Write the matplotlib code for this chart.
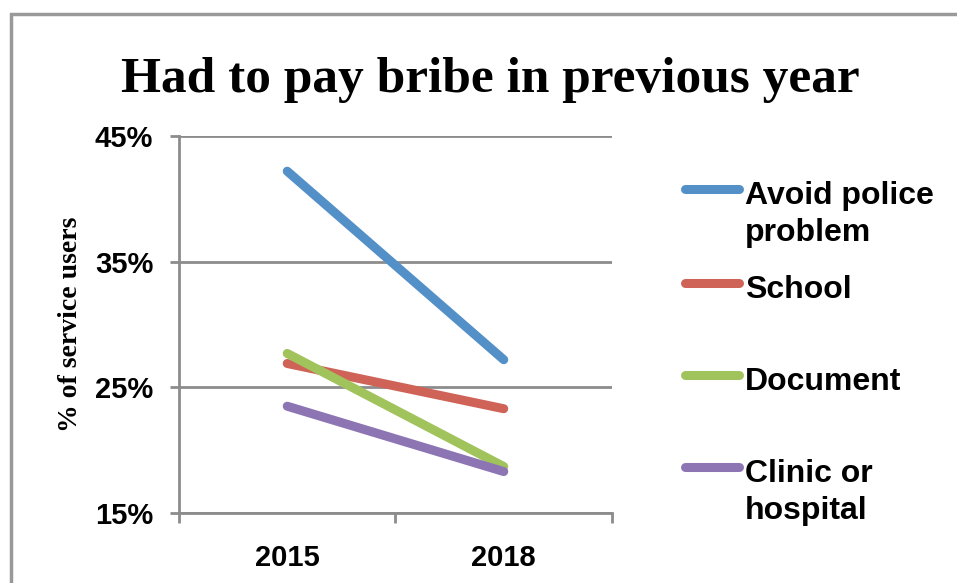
import matplotlib.pyplot as plt
import numpy as np
from matplotlib.lines import Line2D
from matplotlib.patches import Rectangle

years = ['2015', '2018']
series_names = ['Avoid police\nproblem', 'School', 'Document', 'Clinic or\nhospital']
police = [42.2, 27.2]
school = [26.9, 23.3]
document = [27.7, 18.7]
clinic = [23.5, 18.3]
colors = ['#5490c8', '#cf6358', '#a0c35c', '#8d75b3']
y_ticks = [15, 25, 35, 45]

grid_color = '#8c8c8c'

fig = plt.figure(figsize=(9.57, 5.83), dpi=100)
ax = fig.add_axes([0.187, 0.120, 0.4525, 0.6467])

x = np.arange(len(years)) + 0.5
for values, color in zip([police, school, document, clinic], colors):
    ax.plot(x, values, color=color, linewidth=6.5, solid_capstyle='round')

ax.set_xlim(0, len(years))
ax.set_ylim(15, 45)
ax.set_yticks(y_ticks)
ax.set_yticklabels(['{}%'.format(v) for v in y_ticks])
ax.set_xticks(np.arange(len(years) + 1))
ax.set_xticklabels([])
ax.set_xticks(x, minor=True)
ax.set_xticklabels(years, minor=True)
ax.tick_params(axis='x', which='minor', length=0, pad=22)
ax.tick_params(axis='x', which='major', length=7, width=2, color=grid_color)
ax.tick_params(axis='y', length=6.5, width=2, color=grid_color, pad=12)
for lab in ax.get_xticklabels(minor=True) + ax.get_yticklabels():
    lab.set_fontfamily('Liberation Sans')
    lab.set_fontweight('bold')
    lab.set_fontsize(21)

ax.grid(axis='y', color=grid_color, linewidth=2)
ax.set_axisbelow(True)
for side in ['top', 'right']:
    ax.spines[side].set_visible(False)
for side in ['left', 'bottom']:
    ax.spines[side].set_color(grid_color)
    ax.spines[side].set_linewidth(2)

ax.set_ylabel('% of service users', family='Liberation Serif', fontweight='bold',
              fontsize=20)
ax.yaxis.set_label_coords(-0.222, 0.5)

fig.text(0.512, 0.862, 'Had to pay bribe in previous year', ha='center', va='center',
         family='Liberation Serif', fontweight='bold', fontsize=37)

# legend drawn by hand to keep the uneven layout of the original
legend_y = [0.676, 0.515, 0.357, 0.199]
for name, color, ly in zip(series_names, colors, legend_y):
    fig.add_artist(Line2D([0.716, 0.772], [ly, ly], transform=fig.transFigure,
                          color=color, linewidth=6.5, solid_capstyle='round'))
    fig.text(0.778, ly + 0.013, name, ha='left', va='top', family='Liberation Sans',
             fontweight='bold', fontsize=23, linespacing=1.3)

fig.add_artist(Rectangle((0.0115, -0.05), 1.1, 1.026, transform=fig.transFigure,
                         fill=False, edgecolor='#999999', linewidth=2.5))

plt.savefig('out.png', dpi=100)
